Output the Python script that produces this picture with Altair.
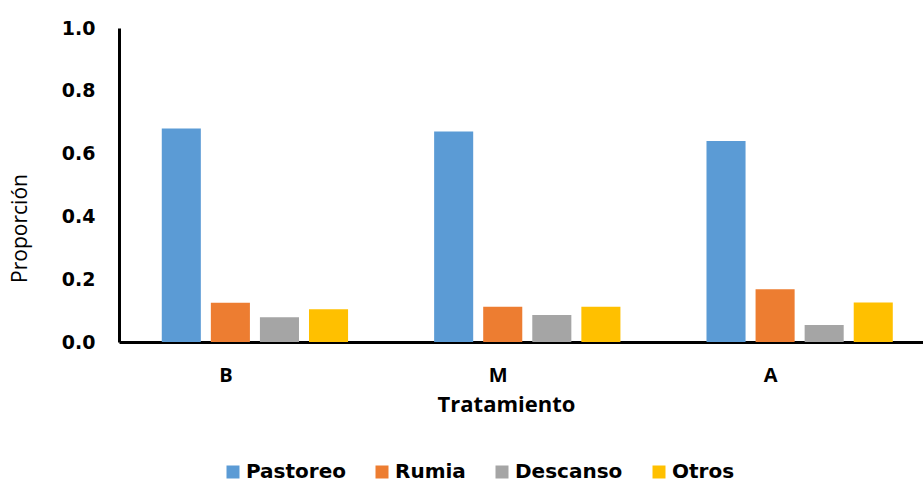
import altair as alt
import pandas as pd

# Behaviour proportions per treatment
tratamientos = ["B", "M", "A"]
conductas = ["Pastoreo", "Rumia", "Descanso", "Otros"]
pastoreo = [0.68, 0.67, 0.64]
rumia = [0.125, 0.112, 0.168]
descanso = [0.079, 0.086, 0.054]
otros = [0.104, 0.112, 0.126]
colores = ["#5B9BD5", "#ED7D31", "#A5A5A5", "#FFC000"]
y_ticks = [0.0, 0.2, 0.4, 0.6, 0.8, 1.0]

rows = []
for conducta, valores in zip(conductas, [pastoreo, rumia, descanso, otros]):
    for t, v in zip(tratamientos, valores):
        rows.append({"Tratamiento": t, "Conducta": conducta, "Proporcion": v})
df = pd.DataFrame(rows)

chart = (
    alt.Chart(df)
    .mark_bar()
    .encode(
        x=alt.X(
            "Tratamiento:N",
            sort=tratamientos,
            scale=alt.Scale(paddingInner=0.316, paddingOuter=0.134, align=0.586),
            axis=alt.Axis(
                title="Tratamiento",
                labelAngle=0,
                ticks=False,
                grid=False,
                domainColor="black",
                domainWidth=3,
                labelFont="Open Sans",
                labelFontWeight="bold",
                labelFontSize=20,
                labelColor="black",
                labelPadding=39,
                labelBaseline="alphabetic",
                labelOffset=-29,
                titleFont="Open Sans",
                titleFontWeight="bold",
                titleFontSize=22,
                titleColor="black",
                titleX=387,
                titleY=69,
                titleBaseline="alphabetic",
                titleAlign="center",
            ),
        ),
        xOffset=alt.XOffset(
            "Conducta:N",
            sort=conductas,
            scale=alt.Scale(paddingInner=0.204, paddingOuter=0),
        ),
        y=alt.Y(
            "Proporcion:Q",
            scale=alt.Scale(domain=[0, 1], nice=False),
            axis=alt.Axis(
                title="Proporción",
                values=y_ticks,
                format=".1f",
                ticks=False,
                grid=False,
                domainColor="black",
                domainWidth=3,
                labelFont="DejaVu Sans",
                labelFontWeight="bold",
                labelFontSize=19,
                labelColor="black",
                labelPadding=24,
                titleFont="Open Sans",
                titleFontWeight="normal",
                titleFontSize=21,
                titleColor="black",
                titleX=-93,
                titleY=200,
                titleAngle=-90,
                titleBaseline="alphabetic",
                titleAlign="center",
            ),
        ),
        color=alt.Color(
            "Conducta:N",
            sort=conductas,
            scale=alt.Scale(domain=conductas, range=colores),
            legend=alt.Legend(
                title=None,
                orient="none",
                legendX=104,
                legendY=434,
                direction="horizontal",
                symbolType="square",
                symbolSize=169,
                symbolStrokeWidth=0,
                symbolOpacity=1,
                labelFont="DejaVu Sans",
                labelFontWeight="bold",
                labelFontSize=20,
                labelColor="black",
                labelOffset=3,
                columnPadding=26,
                labelLimit=300,
            ),
        ),
    )
    .properties(
        width=804,
        height=314,
        autosize=alt.AutoSizeParams(type="none"),
        padding={"left": 119, "top": 28, "right": 0, "bottom": 139},
        background="white",
    )
    .configure_view(stroke=None)
)

chart.save("out.html", embed_options={"renderer": "svg", "actions": False})
